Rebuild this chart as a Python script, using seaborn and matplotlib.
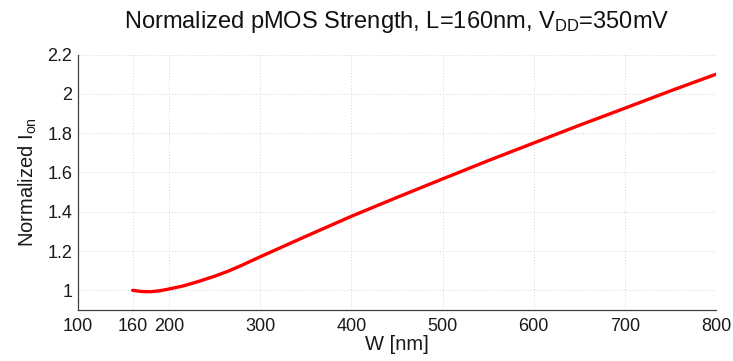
import matplotlib
matplotlib.use("Agg")
import matplotlib.pyplot as plt
import seaborn as sns
import pandas as pd

# Data
width_nm = [160, 170, 180, 190, 200, 215, 230, 250, 265, 280, 300,
            350, 400, 450, 500, 550, 600, 650, 700, 750, 800]
norm_ion = [1.000, 0.994, 0.993, 0.998, 1.007, 1.022, 1.042, 1.072, 1.098, 1.128, 1.171,
            1.275, 1.377, 1.473, 1.567, 1.660, 1.750, 1.840, 1.927, 2.015, 2.100]
x_ticks = [100, 160, 200, 300, 400, 500, 600, 700, 800]
y_ticks = [1, 1.2, 1.4, 1.6, 1.8, 2, 2.2]
y_tick_labels = ["1", "1.2", "1.4", "1.6", "1.8", "2", "2.2"]

df = pd.DataFrame({"W": width_nm, "Ion": norm_ion})

sns.set_style("white")
plt.rcParams["font.family"] = ["Liberation Sans", "DejaVu Sans"]
plt.rcParams["mathtext.fontset"] = "custom"
plt.rcParams["mathtext.rm"] = "Liberation Sans"
plt.rcParams["mathtext.it"] = "Liberation Sans"

fig = plt.figure(figsize=(7.33, 3.61), dpi=100)
ax = fig.add_axes([0.1064, 0.1413, 0.8704, 0.7075])

sns.lineplot(data=df, x="W", y="Ion", ax=ax, color="#ff0000", linewidth=2.4, zorder=3)

ax.set_xlim(100, 800)
ax.set_ylim(0.9, 2.2)
ax.set_xticks(x_ticks)
ax.set_yticks(y_ticks)
ax.set_yticklabels(y_tick_labels)

ax.grid(True, linestyle=(0, (1, 2)), color="#d4d4d4", linewidth=0.7, zorder=0)
for s in ["top", "right"]:
    ax.spines[s].set_visible(False)
for s in ["left", "bottom"]:
    ax.spines[s].set_color("#404040")
    ax.spines[s].set_linewidth(0.9)

ax.tick_params(axis="both", direction="in", length=4, width=0.8, color="#404040",
               labelsize=13, labelcolor="#1a1a1a")
ax.tick_params(axis="y", pad=4)
ax.tick_params(axis="x", pad=6)

ax.set_xlabel("W [nm]", fontsize=14.5, color="#1a1a1a", labelpad=0)
ax.set_ylabel(r"Normalized I$_{\mathregular{on}}$", fontsize=14.5, color="#1a1a1a", labelpad=6)
ax.set_title(r"Normalized pMOS Strength, L=160nm, V$_{\mathregular{DD}}$=350mV",
             fontsize=17, color="#111111", pad=19)

fig.savefig("out.png", dpi=100)
